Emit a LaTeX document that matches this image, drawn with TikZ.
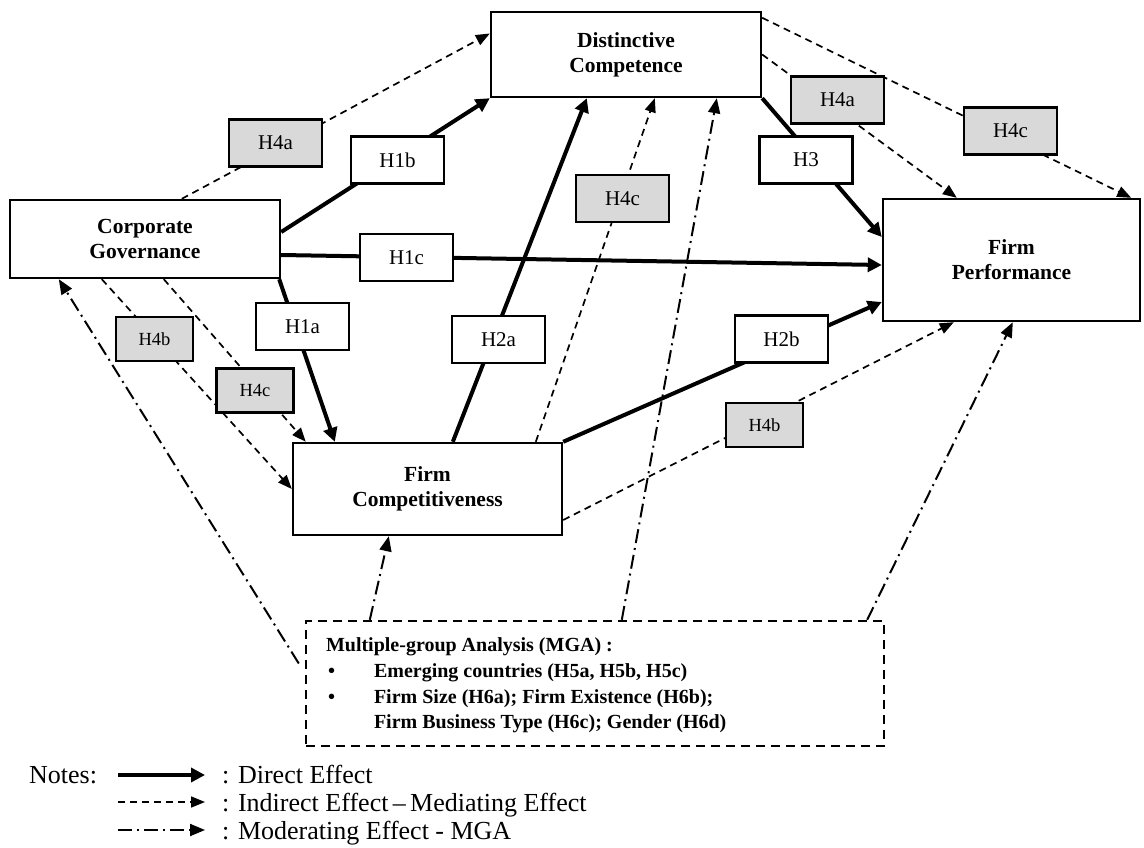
\documentclass[tikz,border=0pt]{standalone}
\usepackage{fontspec}
\setmainfont{Liberation Serif}
\usetikzlibrary{arrows.meta,calc}
\definecolor{hfill}{RGB}{217,217,217}

\tikzset{
  conbox/.style={draw, line width=2.4pt, fill=white, inner sep=0pt, align=center,
    font=\fontsize{21.5}{25}\selectfont\bfseries},
  hbox/.style={draw, line width=2.2pt, fill=white, inner sep=0pt,
    minimum width=93pt, minimum height=47pt, font=\fontsize{21}{25}\selectfont},
  hgray/.style={hbox, fill=hfill},
  hsmall/.style={hgray, minimum width=77pt, minimum height=44pt,
    font=\fontsize{18.5}{22}\selectfont},
  mgabox/.style={draw, line width=2.4pt, dash pattern=on 9pt off 6pt, inner sep=0pt,
    minimum width=578pt, minimum height=125pt},
  mgatext/.style={anchor=base west, inner sep=0pt, font=\fontsize{20}{24}\selectfont\bfseries},
  notetext/.style={anchor=base west, inner sep=0pt, font=\fontsize{26}{30}\selectfont},
  direct/.style={line width=4pt, -{Triangle[length=14pt,width=14pt]}},
  indirect/.style={line width=1.7pt, dash pattern=on 7pt off 5pt,
    -{Triangle[length=14pt,width=11pt]}},
  moderate/.style={line width=2pt, dash pattern=on 14pt off 5pt on 2pt off 5pt,
    -{Triangle[length=15pt,width=12pt]}},
}

\begin{document}
\begin{tikzpicture}[x=1pt,y=-1pt]
\useasboundingbox (0,0) rectangle (1144,848);
% Constructs (coordinates in pixels of the reference, y downward)
\node[conbox, minimum width=270pt, minimum height=78pt] (cg) at (145,239)
  {Corporate\\Governance};
\node[conbox, minimum width=270pt, minimum height=85pt] (dc) at (626,54.5)
  {Distinctive\\Competence};
\node[conbox, minimum width=257pt, minimum height=122pt] (fp) at (1011.5,260)
  {Firm\\Performance};
\node[conbox, minimum width=269pt, minimum height=92pt] (fc) at (427.5,489)
  {Firm\\Competitiveness};
\node[mgabox] (mga) at (595,683.5) {};

% Direct effects
\draw[direct] ([yshift=7pt]cg.east) -- (dc.south west);
\draw[direct] ([yshift=-16pt]cg.east) -- ([yshift=-5pt]fp.west);
\draw[direct] ([xshift=-2pt]cg.south east) -- ([xshift=43pt]fc.north west);
\draw[direct] ([xshift=161pt]fc.north west) -- ([xshift=97pt]dc.south west);
\draw[direct] (dc.south east) -- ([yshift=23pt]fp.west);
\draw[direct] (fc.north east) -- ([yshift=-42pt]fp.west);

% Indirect (mediating) effects
\draw[indirect] ([xshift=173pt]cg.north west) -- ([yshift=21pt]dc.west);
\draw[indirect] ([yshift=-7pt]dc.north east) -- ([xshift=-10pt]fp.north east);
\draw[indirect] (dc.east) -- ([xshift=75pt]fp.north west);
\draw[indirect] ([xshift=93pt]cg.south west) -- (fc.west);
\draw[indirect] ([xshift=155pt]cg.south west) -- ([xshift=14pt]fc.north west);
\draw[indirect] ([xshift=244pt]fc.north west) -- ([xshift=165pt]dc.south west);
\draw[indirect] ([yshift=-31pt]fc.east) -- ([xshift=72pt]fp.south west);

% Moderating effects from the MGA box
\draw[moderate] ([xshift=-6pt,yshift=20pt]mga.west) -- ([xshift=50pt]cg.south west);
\draw[moderate] ([xshift=65pt]mga.north west) -- ([xshift=97pt]fc.south west);
\draw[moderate] ([xshift=317pt]mga.north west) -- ([xshift=227pt]dc.south west);
\draw[moderate] ([xshift=-18pt]mga.north east) -- ([xshift=131pt]fp.south west);

% Hypothesis labels sitting on the paths
\node[hbox] (h1b) at (397.5,160) {H1b};
\node[hbox] (h1c) at (406.5,257.5) {H1c};
\node[hbox] (h1a) at (302.5,326.5) {H1a};
\node[hbox] (h2a) at (498.5,339.5) {H2a};
\node[hbox] (h3) at (806,160) {H3};
\node[hbox] (h2b) at (781.5,339) {H2b};
\node[hgray] (h4aleft) at (275.5,143) {H4a};
\node[hgray] (h4aright) at (837.5,100) {H4a};
\node[hgray] (h4cmid) at (622.5,198.5) {H4c};
\node[hgray] (h4cright) at (1010.5,131) {H4c};
\node[hsmall] (h4bleft) at (154.5,339) {H4b};
\node[hsmall] (h4cleft) at (255,390.5) {H4c};
\node[hsmall] (h4bright) at (764.5,425) {H4b};

% Text of the MGA box
\node[mgatext] (mgahead) at ($(mga.north west)+(21,32)$) {Multiple-group Analysis (MGA) :};
\node[mgatext] (dotone) at ($(mga.north west)+(23,58)$) {\textbullet};
\node[mgatext] (mgaone) at ($(mga.north west)+(69,58)$) {Emerging countries (H5a, H5b, H5c)};
\node[mgatext] (dottwo) at ($(mga.north west)+(23,84)$) {\textbullet};
\node[mgatext] (mgatwo) at ($(mga.north west)+(69,84)$) {Firm Size (H6a); Firm Existence (H6b);};
\node[mgatext] (mgathree) at ($(mga.north west)+(69,109)$) {Firm Business Type (H6c); Gender (H6d)};

% Notes / legend
\node[notetext] (notes) at (29,783) {Notes:};
\coordinate (keyda) at (118,775);
\coordinate (keydb) at (205,775);
\coordinate (keyia) at (118,802);
\coordinate (keyib) at (205,802);
\coordinate (keyma) at (118,830);
\coordinate (keymb) at (205,830);
\draw[direct] (keyda) -- (keydb);
\draw[indirect] (keyia) -- (keyib);
\draw[moderate] (keyma) -- (keymb);
\node[notetext] (keyd) at (222,783) {: Direct Effect};
\node[notetext] (keyi) at (222,811) {: Indirect Effect\,–\,Mediating Effect};
\node[notetext] (keym) at (222,839) {: Moderating Effect - MGA};
\end{tikzpicture}
\end{document}
